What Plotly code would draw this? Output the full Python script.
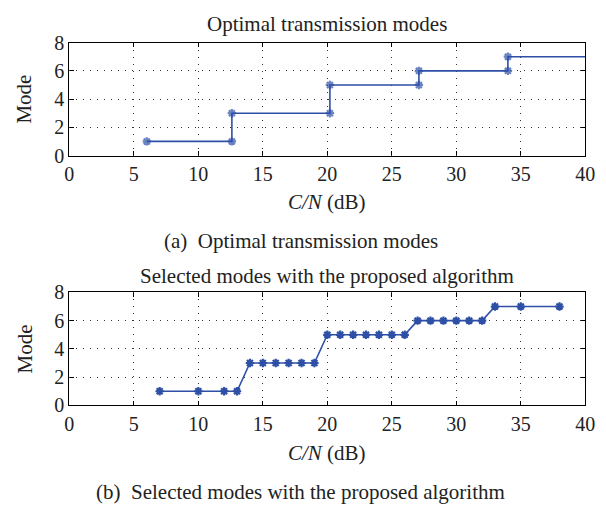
import plotly.graph_objects as go

# Optimal transmission modes: step boundaries in C/N (dB)
opt_cn = [6, 12.6, 12.6, 20.2, 20.2, 27.1, 27.1, 34, 34, 40]
opt_mode = [1, 1, 3, 3, 5, 5, 6, 6, 7, 7]

# Modes picked by the proposed algorithm at each simulated C/N
sel_cn = [7, 10, 12, 13, 14, 15, 16, 17, 18, 19, 20, 21, 22, 23, 24, 25, 26,
          27, 28, 29, 30, 31, 32, 33, 35, 38]
sel_mode = [1, 1, 1, 1, 3, 3, 3, 3, 3, 3, 5, 5, 5, 5, 5, 5, 5,
            6, 6, 6, 6, 6, 6, 7, 7, 7]

x_ticks = [0, 5, 10, 15, 20, 25, 30, 35, 40]
y_ticks = [0, 2, 4, 6, 8]

W, H = 606, 514
BLUE = "#2d4fa6"
FONT = "Liberation Serif"

def py(pix):
    return 1 - pix / H

fig = go.Figure()

# last point of the optimal curve only extends the line to the axis edge
opt_sizes = [7] * (len(opt_cn) - 1) + [0]
fig.add_trace(go.Scatter(
    x=opt_cn, y=opt_mode, mode="lines+markers", xaxis="x", yaxis="y",
    line=dict(color=BLUE, width=1.6),
    marker=dict(symbol="asterisk-open", size=opt_sizes,
                line=dict(color=BLUE, width=2.2)),
    showlegend=False))

fig.add_trace(go.Scatter(
    x=sel_cn, y=sel_mode, mode="lines+markers", xaxis="x2", yaxis="y2",
    line=dict(color=BLUE, width=1.6),
    marker=dict(symbol="asterisk-open", size=7,
                line=dict(color=BLUE, width=2.2)),
    showlegend=False))

x_dom = [66 / W, 595 / W]
axis_common = dict(
    showline=True, linecolor="black", linewidth=1.3, mirror="ticks",
    ticks="inside", ticklen=4, tickcolor="black", tickwidth=1,
    showgrid=True, gridcolor="#333333", gridwidth=1, griddash="1px,6px",
    zeroline=False, tickfont=dict(family=FONT, size=20, color="#222"),
)

fig.update_layout(
    width=W, height=H, margin=dict(l=0, r=0, t=0, b=0),
    paper_bgcolor="white", plot_bgcolor="white",
    font=dict(family=FONT, color="#222"),
    xaxis=dict(domain=x_dom, range=[0, 40], tickvals=x_ticks, anchor="y",
               **axis_common),
    yaxis=dict(domain=[py(151), py(33)], range=[0, 8], tickvals=y_ticks,
               anchor="x", **axis_common),
    xaxis2=dict(domain=x_dom, range=[0, 40], tickvals=x_ticks, anchor="y2",
                **axis_common),
    yaxis2=dict(domain=[py(412), py(294)], range=[0, 8], tickvals=y_ticks,
                anchor="x2", **axis_common),
)

def text(x, y, s, size=18, angle=0):
    fig.add_annotation(x=x, y=y, xref="paper", yref="paper", text=s,
                       showarrow=False, textangle=angle,
                       xanchor="center", yanchor="middle",
                       font=dict(family=FONT, size=size, color="#222"))

cx = (x_dom[0] + x_dom[1]) / 2
text(cx, py(14), "Optimal transmission modes", 21)
text(cx, py(200), "<i>C/N</i> (dB)", 21)
text(0.5, py(240), "(a)  Optimal transmission modes", 21)
text(20 / W, py(92), "Mode", 21, -90)

text(cx, py(277), "Selected modes with the proposed algorithm", 21)
text(cx, py(462), "<i>C/N</i> (dB)", 21)
text(0.5, py(502), "(b)  Selected modes with the proposed algorithm", 21)
text(20 / W, py(353), "Mode", 21, -90)

fig.write_html("out.html")
